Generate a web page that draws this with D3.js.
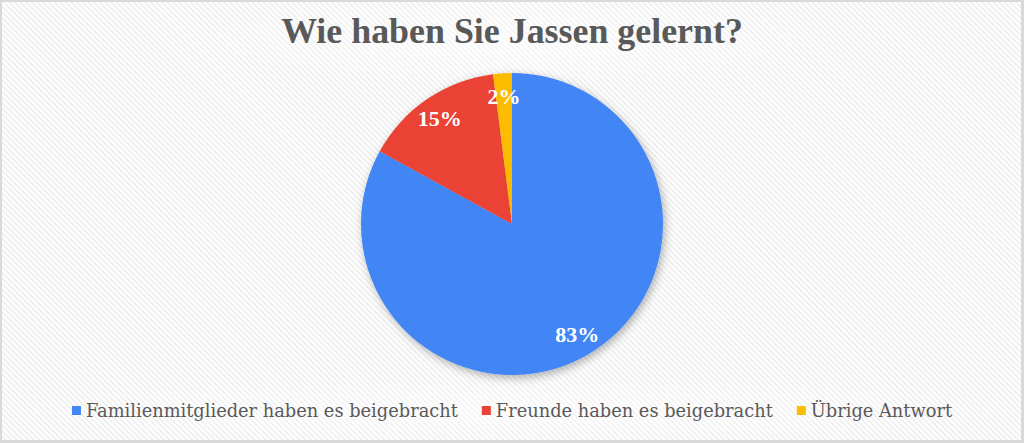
<!DOCTYPE html>
<html>
<head>
<meta charset="utf-8">
<script src="https://cdn.jsdelivr.net/npm/d3@7/dist/d3.min.js"></script>
<style>
  html, body { margin: 0; padding: 0; background: #fff; }
  svg { display: block; }
</style>
</head>
<body>
<svg id="chart" width="1024" height="443"></svg>
<script>
const title = "Wie haben Sie Jassen gelernt?";
const categories = [
  "Familienmitglieder haben es beigebracht",
  "Freunde haben es beigebracht",
  "Übrige Antwort"
];
const shares = [83, 15, 2];
const colors = ["#4285f4", "#ea4335", "#fbbc04"];

const width = 1024;
const height = 443;
const serif = "Georgia, 'DejaVu Serif', serif";
const boldSerif = "Georgia, 'Liberation Serif', serif";

const svg = d3.select("#chart");
const defs = svg.append("defs");

// faint diagonal hatch of the chart area
const hatch = defs.append("pattern")
  .attr("id", "hatch")
  .attr("width", 4)
  .attr("height", 4)
  .attr("patternUnits", "userSpaceOnUse")
  .attr("patternTransform", "rotate(-45)");
hatch.append("rect").attr("width", 4).attr("height", 4).attr("fill", "#ffffff");
hatch.append("rect").attr("width", 1.6).attr("height", 4).attr("fill", "#ececec");

const glow = defs.append("radialGradient").attr("id", "glow");
glow.append("stop").attr("offset", "0%").attr("stop-color", "#fff").attr("stop-opacity", 0.55);
glow.append("stop").attr("offset", "100%").attr("stop-color", "#fff").attr("stop-opacity", 0);

const shadow = defs.append("filter")
  .attr("id", "shadow")
  .attr("x", "-20%").attr("y", "-20%")
  .attr("width", "140%").attr("height", "140%");
shadow.append("feDropShadow")
  .attr("dx", 2).attr("dy", 3)
  .attr("stdDeviation", 4)
  .attr("flood-color", "#000")
  .attr("flood-opacity", 0.3);

// frame
svg.append("rect").attr("width", width).attr("height", height).attr("fill", "#d9d9d9");
svg.append("rect")
  .attr("x", 2).attr("y", 2)
  .attr("width", width - 5).attr("height", height - 5)
  .attr("fill", "url(#hatch)");
svg.append("ellipse")
  .attr("cx", width / 2).attr("cy", 40)
  .attr("rx", 320).attr("ry", 45)
  .attr("fill", "url(#glow)");
svg.append("ellipse")
  .attr("cx", width / 2).attr("cy", 411)
  .attr("rx", 520).attr("ry", 30)
  .attr("fill", "url(#glow)");

// title
const titleText = svg.append("text")
  .attr("x", width / 2)
  .attr("y", 43)
  .attr("text-anchor", "middle")
  .attr("font-family", boldSerif)
  .attr("font-weight", "bold")
  .attr("font-size", 30)
  .attr("fill", "#595959")
  .text(title);
const tw = titleText.node().getComputedTextLength();
titleText.attr("font-size", 30 * 462 / tw);

// pie
const cx = 512, cy = 224, radius = 151;
const pie = d3.pie().sort(null).value(d => d);
const arc = d3.arc().innerRadius(0).outerRadius(radius);
const labelArc = d3.arc().innerRadius(radius * 0.85).outerRadius(radius * 0.85);

const g = svg.append("g").attr("transform", `translate(${cx},${cy})`);
const arcs = pie(shares);

g.append("g")
  .attr("filter", "url(#shadow)")
  .selectAll("path")
  .data(arcs)
  .join("path")
  .attr("d", arc)
  .attr("fill", (d, i) => colors[i]);

g.selectAll("text.label")
  .data(arcs)
  .join("text")
  .attr("class", "label")
  .attr("transform", d => `translate(${labelArc.centroid(d)})`)
  .attr("text-anchor", "middle")
  .attr("dy", "0.35em")
  .attr("font-family", boldSerif)
  .attr("font-weight", "bold")
  .attr("font-size", 22)
  .attr("fill", "#ffffff")
  .text(d => d.data + "%");

// legend
const legendY = 411;
const legend = svg.append("g");
const items = legend.selectAll("g")
  .data(categories)
  .join("g");
items.append("rect")
  .attr("width", 9).attr("height", 9)
  .attr("y", -5)
  .attr("fill", (d, i) => colors[i]);
const labels = items.append("text")
  .attr("x", 14)
  .attr("dy", "0.35em")
  .attr("font-family", serif)
  .attr("font-size", 18)
  .attr("fill", "#595959")
  .text(d => d);

const firstW = labels.node().getComputedTextLength();
const legendFont = 18 * 372 / firstW;
labels.attr("font-size", legendFont);

const gap = 24;
const widths = labels.nodes().map(n => 14 + n.getComputedTextLength());
const total = d3.sum(widths) + gap * (widths.length - 1);
let x0 = width / 2 - total / 2;
items.attr("transform", (d, i) => {
  const x = x0;
  x0 += widths[i] + gap;
  return `translate(${x},${legendY})`;
});
</script>
</body>
</html>
